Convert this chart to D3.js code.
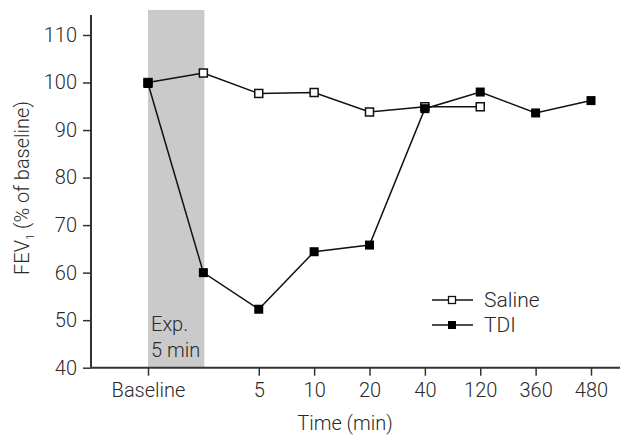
<!DOCTYPE html>
<html><head><meta charset="utf-8">
<script src="https://cdn.jsdelivr.net/npm/d3@7/dist/d3.min.js"></script>
<style>body{margin:0;background:#fff}svg{display:block}text{font-family:Roboto,"Liberation Sans",Arial,sans-serif;font-weight:300;fill:#2a2a2a}</style>
</head><body><svg id="c" width="626" height="435"></svg>
<script>
const categories = ["Baseline", "End", "5", "10", "20", "40", "120", "360", "480"];
const tickLabels = ["Baseline", "5", "10", "20", "40", "120", "360", "480"];
const salineValues = [100, 102, 97.7, 97.9, 93.8, 94.9, 94.9, null, null];
const tdiValues = [99.8, 60, 52.3, 64.4, 65.8, 94.5, 98, 93.6, 96.2];
const yTicks = [40, 50, 60, 70, 80, 90, 100, 110];
const seriesNames = ["Saline", "TDI"];

const FONT = "Roboto, Liberation Sans, Arial, sans-serif";
const FS = 20;
const svg = d3.select("#c");
const x = d3.scalePoint().domain(categories).range([148, 591]);
const y = d3.scaleLinear().domain([40, 110]).range([367.7, 35]);
const axisColor = "#333";

// exposure shading
svg.append("rect").attr("x", x("Baseline")).attr("y", 10)
  .attr("width", x("End") - x("Baseline") + 1).attr("height", y(40) - 10)
  .attr("fill", "#cacaca");
svg.append("text").attr("x", x("Baseline") + 3).attr("y", 331).attr("font-size", FS).text("Exp.");
svg.append("text").attr("x", x("Baseline") + 3).attr("y", 357).attr("font-size", FS).text("5 min");

// y axis
const yAxis = d3.axisLeft(y).tickValues(yTicks).tickSize(8).tickPadding(6);
const gy = svg.append("g").attr("transform", "translate(91,0)").call(yAxis);
gy.select(".domain").attr("d", `M0,15V${y(40)}`).attr("stroke", axisColor).attr("stroke-width", 2);
gy.selectAll(".tick line").attr("stroke", axisColor).attr("stroke-width", 1.5);
gy.selectAll(".tick text").attr("font-size", FS).attr("fill", "#2a2a2a").attr("font-family", FONT).attr("font-weight", 300);

// x axis
const xAxis = d3.axisBottom(x).tickValues(categories.filter(c => tickLabels.includes(c))).tickSize(8).tickPadding(7);
const gx = svg.append("g").attr("transform", `translate(0,${y(40)})`).call(xAxis);
gx.select(".domain").attr("d", "M91,0H620").attr("stroke", axisColor).attr("stroke-width", 2);
gx.selectAll(".tick line").attr("stroke", axisColor).attr("stroke-width", 1.5);
gx.selectAll(".tick text").attr("font-size", FS).attr("fill", "#2a2a2a").attr("font-family", FONT).attr("font-weight", 300);

// axis titles
svg.append("text").attr("x", 345).attr("y", 430).attr("text-anchor", "middle").attr("font-size", FS).text("Time (min)");
const yl = svg.append("text").attr("transform", "translate(29,188) rotate(-90)").attr("text-anchor", "middle").attr("font-size", FS);
yl.append("tspan").text("FEV");
yl.append("tspan").attr("font-size", 11).attr("dy", 5).text("1");
yl.append("tspan").attr("dy", -5).text(" (% of baseline)");

// lines
const line = d3.line().defined(d => d.v != null).x(d => x(d.c)).y(d => y(d.v));
const sal = categories.map((c, i) => ({c, v: salineValues[i]}));
const tdi = categories.map((c, i) => ({c, v: tdiValues[i]}));
svg.append("path").datum(tdi).attr("d", line).attr("fill", "none").attr("stroke", "#111").attr("stroke-width", 1.5);
svg.append("path").datum(sal).attr("d", line).attr("fill", "none").attr("stroke", "#111").attr("stroke-width", 1.5);
svg.selectAll(".ms").data(sal.filter(d => d.v != null)).join("rect")
  .attr("x", d => x(d.c) - 4).attr("y", d => y(d.v) - 4).attr("width", 8).attr("height", 8)
  .attr("fill", "#fff").attr("stroke", "#111").attr("stroke-width", 1.5);
svg.selectAll(".mt").data(tdi).join("rect")
  .attr("x", d => x(d.c) - 4.5).attr("y", d => y(d.v) - 4.5).attr("width", 9).attr("height", 9)
  .attr("fill", "#000");

// legend
const lg = [{n: seriesNames[0], y: 300, filled: false}, {n: seriesNames[1], y: 325, filled: true}];
lg.forEach(d => {
  svg.append("line").attr("x1", 432).attr("x2", 473).attr("y1", d.y).attr("y2", d.y).attr("stroke", "#111").attr("stroke-width", 1.5);
  if (d.filled) svg.append("rect").attr("x", 448).attr("y", d.y - 4).attr("width", 8).attr("height", 8).attr("fill", "#000");
  else svg.append("rect").attr("x", 448.5).attr("y", d.y - 3.5).attr("width", 7).attr("height", 7).attr("fill", "#fff").attr("stroke", "#111").attr("stroke-width", 1.3);
  svg.append("text").attr("x", 484).attr("y", d.y + 7).attr("font-size", 21).text(d.n);
});
</script></body></html>
